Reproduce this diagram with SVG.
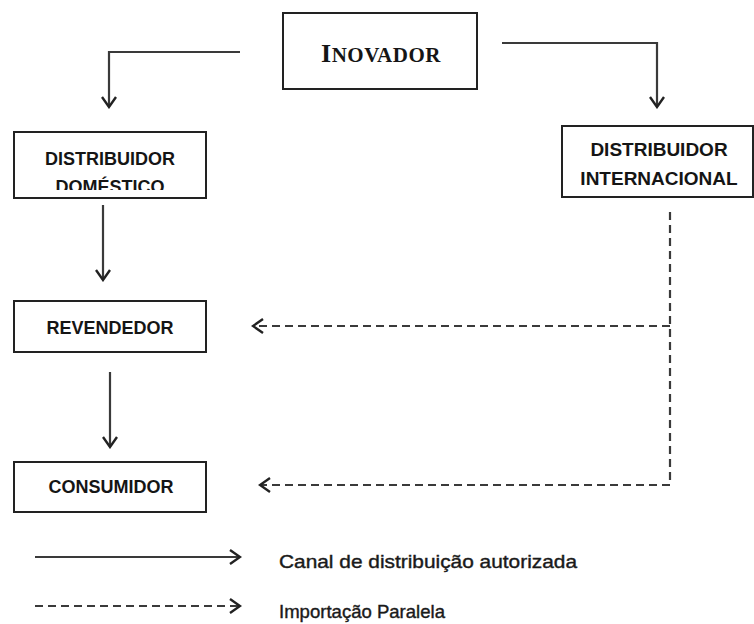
<svg xmlns="http://www.w3.org/2000/svg" width="754" height="624" viewBox="0 0 754 624">
<style>
.box{fill:#fff;stroke:#222;stroke-width:2}
.lbl{font-family:"Liberation Sans",Arial,sans-serif;font-weight:bold;fill:#151515;text-anchor:middle}
.leg{font-family:"Liberation Sans",Arial,sans-serif;font-size:19px;fill:#1a1a1a;stroke:#1a1a1a;stroke-width:0.4}
.solid{fill:none;stroke:#3a3a3a;stroke-width:2.2}
.dash{fill:none;stroke:#3a3a3a;stroke-width:2.2;stroke-dasharray:8 5}
</style>
<defs>
<marker id="ah" markerUnits="userSpaceOnUse" markerWidth="14" markerHeight="20" viewBox="-12 -9 14 18" refX="0" refY="0" orient="auto">
<path d="M-10,-7 L0,0 L-10,7" fill="none" stroke="#222" stroke-width="2.4"/>
</marker>
<clipPath id="clipDD"><rect x="14" y="132" width="192" height="58"/></clipPath>
</defs>
<g id="connectors">
<path class="solid" d="M240,52 H109 V107" marker-end="url(#ah)"/>
<path class="solid" d="M502,43 H657 V107" marker-end="url(#ah)"/>
<path class="solid" d="M103,205 V280" marker-end="url(#ah)"/>
<path class="solid" d="M110,372 V447" marker-end="url(#ah)"/>
<path class="dash" d="M670,212 V485 H260" marker-end="url(#ah)"/>
<path class="dash" d="M670,326 H253" marker-end="url(#ah)"/>
</g>
<g id="inovador">
<rect class="box" x="283" y="13" width="194" height="76"/>
<text x="381" y="62" text-anchor="middle" font-family="'Liberation Serif','Times New Roman',serif" font-weight="bold" fill="#151515" letter-spacing="0.5"><tspan font-size="26">I</tspan><tspan font-size="21">NOVADOR</tspan></text>
</g>
<g id="distribuidor-domestico">
<rect class="box" x="14" y="132" width="192" height="66"/>
<g clip-path="url(#clipDD)">
<text class="lbl" x="110" y="165" font-size="18">DISTRIBUIDOR</text>
<text class="lbl" x="110" y="193" font-size="18">DOMÉSTICO</text>
</g>
</g>
<g id="distribuidor-internacional">
<rect class="box" x="562" y="126" width="191" height="71"/>
<text class="lbl" x="659" y="156" font-size="19">DISTRIBUIDOR</text>
<text class="lbl" x="659" y="185" font-size="19">INTERNACIONAL</text>
</g>
<g id="revendedor">
<rect class="box" x="14" y="301" width="192" height="51"/>
<text class="lbl" x="110" y="334" font-size="18">REVENDEDOR</text>
</g>
<g id="consumidor">
<rect class="box" x="14" y="462" width="192" height="50"/>
<text class="lbl" x="111" y="493" font-size="18">CONSUMIDOR</text>
</g>
<g id="legend">
<path class="solid" d="M35,557 H240" marker-end="url(#ah)"/>
<path class="dash" d="M35,606 H240" marker-end="url(#ah)"/>
<text class="leg" x="279" y="568" textLength="298" lengthAdjust="spacingAndGlyphs">Canal de distribuição autorizada</text>
<text class="leg" x="279" y="618" textLength="166" lengthAdjust="spacingAndGlyphs">Importação Paralela</text>
</g>
</svg>
